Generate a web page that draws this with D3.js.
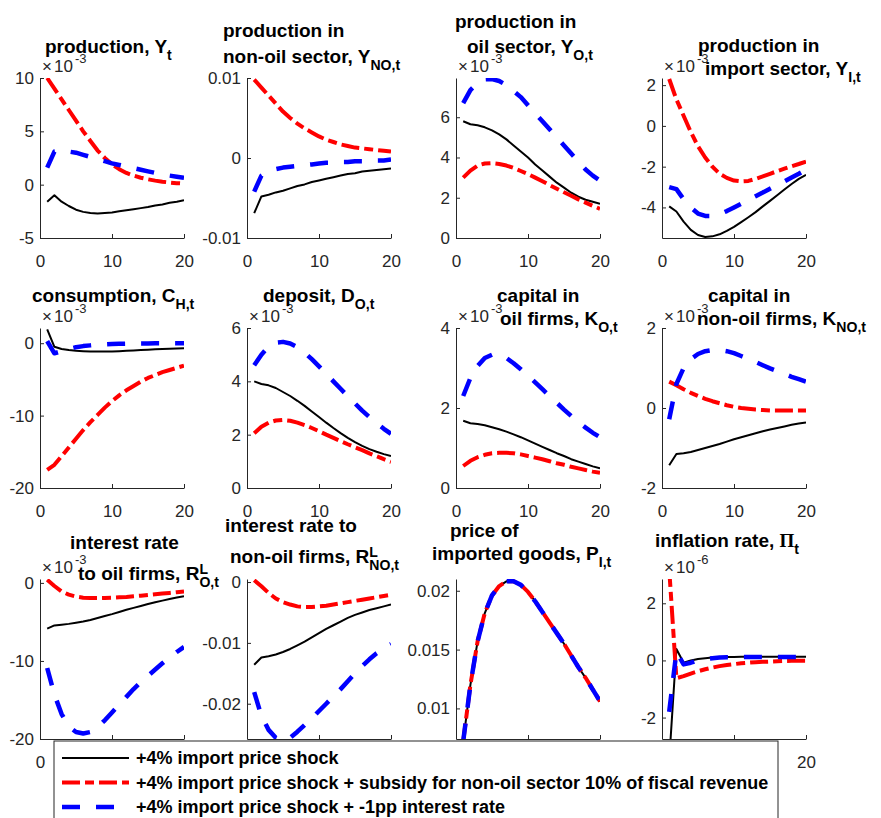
<!DOCTYPE html>
<html>
<head>
<meta charset="utf-8">
<script src="https://cdn.jsdelivr.net/npm/d3@7"></script>
<style>
  body { margin: 0; background: #fff; }
  svg text { font-family: "Liberation Sans", Arial, Helvetica, sans-serif; white-space: pre; }
  .tick text { fill: #262626; font-size: 17px; }
  .domain, .tick line { stroke: #262626; }
  .title text { font-weight: bold; fill: #000; }
</style>
</head>
<body>
<div id="chart"></div>
<script>
//////////////////
// Chart values //
//////////////////

// periods 1..20 after the shock
var periods = d3.range(1, 21);

// legend entries (one per scenario)
var scenarios = [
  "+4% import price shock",
  "+4% import price shock + subsidy for non-oil sector 10% of fiscal revenue",
  "+4% import price shock + -1pp interest rate"
];

// production, Y_t  (x 10^-3)
var prodBase    = [-1.6, -1.0, -1.6, -2.0, -2.35, -2.55, -2.65, -2.7, -2.65, -2.6, -2.5, -2.4, -2.3, -2.2, -2.1, -1.95, -1.85, -1.7, -1.6, -1.45];
var prodSubsidy = [10.0, 9.0, 8.0, 7.0, 6.0, 5.0, 4.1, 3.2, 2.5, 1.9, 1.45, 1.1, 0.85, 0.65, 0.5, 0.38, 0.28, 0.2, 0.14, 0.1];
var prodRate    = [1.6, 3.1, 3.2, 3.1, 3.0, 2.8, 2.6, 2.4, 2.2, 2.0, 1.85, 1.7, 1.55, 1.4, 1.25, 1.1, 1.0, 0.85, 0.75, 0.65];

// production in non-oil sector, Y_NO,t
var nonOilBase    = [-0.0069, -0.0048, -0.0046, -0.0043, -0.0041, -0.0038, -0.0035, -0.0033, -0.0030, -0.0028, -0.0026, -0.0024, -0.0022, -0.0020, -0.0019, -0.0017, -0.0016, -0.0015, -0.0014, -0.0013];
var nonOilSubsidy = [0.0098, 0.0088, 0.0078, 0.0068, 0.0058, 0.0050, 0.0043, 0.0037, 0.0032, 0.0027, 0.0023, 0.0020, 0.0017, 0.0015, 0.0013, 0.0012, 0.0011, 0.0010, 0.0009, 0.0008];
var nonOilRate    = [-0.0042, -0.0022, -0.0017, -0.0014, -0.0012, -0.0011, -0.0010, -0.0009, -0.0008, -0.0007, -0.0006, -0.0006, -0.0005, -0.0005, -0.0004, -0.0004, -0.0003, -0.0003, -0.0003, -0.0002];

// production in oil sector, Y_O,t  (x 10^-3)
var oilBase    = [5.8, 5.65, 5.6, 5.5, 5.35, 5.15, 4.9, 4.6, 4.3, 4.0, 3.65, 3.35, 3.05, 2.75, 2.5, 2.25, 2.05, 1.9, 1.8, 1.7];
var oilSubsidy = [3.0, 3.35, 3.6, 3.7, 3.72, 3.68, 3.6, 3.48, 3.33, 3.18, 3.0, 2.82, 2.63, 2.45, 2.27, 2.1, 1.92, 1.76, 1.6, 1.45];
var oilRate    = [6.7, 7.35, 7.7, 7.88, 7.9, 7.8, 7.6, 7.3, 7.0, 6.6, 6.2, 5.8, 5.4, 5.0, 4.6, 4.2, 3.8, 3.4, 3.1, 2.85];

// production in import sector, Y_I,t  (x 10^-3)
var importBase    = [-3.95, -4.2, -4.7, -5.1, -5.35, -5.45, -5.42, -5.32, -5.15, -4.95, -4.72, -4.48, -4.23, -3.95, -3.68, -3.4, -3.12, -2.85, -2.6, -2.4];
var importSubsidy = [2.3, 1.3, 0.5, -0.3, -1.0, -1.55, -2.0, -2.35, -2.55, -2.68, -2.72, -2.7, -2.6, -2.48, -2.35, -2.22, -2.1, -1.98, -1.87, -1.75];
var importRate    = [-3.0, -3.1, -3.6, -4.0, -4.3, -4.42, -4.42, -4.33, -4.18, -4.0, -3.82, -3.63, -3.45, -3.27, -3.08, -2.9, -2.72, -2.53, -2.35, -2.15];

// consumption, C_H,t  (x 10^-3)
var consBase    = [1.9, -0.5, -0.8, -0.95, -1.05, -1.1, -1.15, -1.15, -1.15, -1.15, -1.1, -1.05, -1.0, -0.95, -0.9, -0.85, -0.8, -0.75, -0.72, -0.7];
var consSubsidy = [-17.5, -16.8, -15.6, -14.4, -13.2, -12.0, -10.9, -9.9, -8.9, -8.0, -7.2, -6.5, -5.9, -5.3, -4.8, -4.4, -4.0, -3.7, -3.4, -3.1];
var consRate    = [0.3, -1.4, -1.1, -0.8, -0.55, -0.4, -0.3, -0.2, -0.15, -0.1, -0.08, -0.06, -0.05, -0.04, -0.03, -0.02, -0.02, -0.01, -0.01, 0];

// deposit, D_O,t  (x 10^-3)
var depBase    = [4.0, 3.9, 3.85, 3.75, 3.6, 3.45, 3.27, 3.08, 2.87, 2.66, 2.45, 2.25, 2.06, 1.88, 1.72, 1.58, 1.46, 1.36, 1.27, 1.2];
var depSubsidy = [2.05, 2.3, 2.45, 2.53, 2.55, 2.52, 2.45, 2.36, 2.25, 2.13, 2.0, 1.88, 1.76, 1.64, 1.53, 1.42, 1.3, 1.19, 1.08, 0.98];
var depRate    = [4.6, 5.0, 5.3, 5.45, 5.48, 5.42, 5.28, 5.08, 4.83, 4.56, 4.28, 4.0, 3.72, 3.44, 3.17, 2.9, 2.66, 2.43, 2.22, 2.03];

// capital in oil firms, K_O,t  (x 10^-3)
var kOilBase    = [1.68, 1.62, 1.6, 1.57, 1.52, 1.47, 1.41, 1.34, 1.27, 1.19, 1.11, 1.03, 0.95, 0.87, 0.8, 0.72, 0.66, 0.6, 0.54, 0.49];
var kOilSubsidy = [0.55, 0.68, 0.77, 0.83, 0.87, 0.88, 0.88, 0.87, 0.84, 0.8, 0.76, 0.72, 0.67, 0.62, 0.58, 0.53, 0.49, 0.45, 0.41, 0.38];
var kOilRate    = [2.3, 2.75, 3.05, 3.25, 3.33, 3.33, 3.25, 3.12, 2.97, 2.81, 2.64, 2.47, 2.3, 2.13, 1.96, 1.8, 1.65, 1.51, 1.38, 1.27];

// capital in non-oil firms, K_NO,t  (x 10^-3)
var kNonOilBase    = [-1.43, -1.15, -1.13, -1.1, -1.05, -1.0, -0.95, -0.9, -0.84, -0.78, -0.73, -0.68, -0.63, -0.58, -0.54, -0.5, -0.46, -0.42, -0.39, -0.36];
var kNonOilSubsidy = [0.66, 0.57, 0.47, 0.38, 0.3, 0.23, 0.17, 0.12, 0.07, 0.03, 0.0, -0.02, -0.04, -0.05, -0.06, -0.06, -0.06, -0.06, -0.06, -0.06];
var kNonOilRate    = [-0.28, 0.6, 1.0, 1.22, 1.35, 1.42, 1.45, 1.45, 1.42, 1.37, 1.3, 1.23, 1.15, 1.07, 0.99, 0.92, 0.85, 0.78, 0.72, 0.66];

// interest rate to oil firms, R^L_O,t  (x 10^-3)
var rOilBase    = [-5.85, -5.45, -5.35, -5.25, -5.1, -4.95, -4.75, -4.5, -4.25, -4.0, -3.72, -3.45, -3.2, -2.95, -2.7, -2.48, -2.27, -2.07, -1.88, -1.7];
var rOilSubsidy = [0.4, -0.4, -1.1, -1.5, -1.75, -1.9, -1.95, -1.95, -1.93, -1.9, -1.85, -1.8, -1.72, -1.64, -1.55, -1.46, -1.37, -1.28, -1.19, -1.1];
var rOilRate    = [-10.9, -14.3, -16.8, -18.4, -19.1, -19.3, -19.1, -18.5, -17.6, -16.6, -15.6, -14.6, -13.6, -12.7, -11.9, -11.1, -10.3, -9.55, -8.85, -8.2];

// interest rate to non-oil firms, R^L_NO,t
var rNonOilBase    = [-0.0136, -0.0124, -0.0122, -0.0119, -0.0115, -0.0110, -0.0104, -0.0098, -0.0091, -0.0084, -0.0077, -0.0071, -0.0065, -0.0059, -0.0054, -0.0050, -0.0046, -0.0043, -0.0040, -0.0037];
var rNonOilSubsidy = [0.0003, -0.0007, -0.0018, -0.0027, -0.0033, -0.0037, -0.0040, -0.0041, -0.0041, -0.0040, -0.0039, -0.0037, -0.0035, -0.0033, -0.0031, -0.0029, -0.0027, -0.0025, -0.0023, -0.0021];
var rNonOilRate    = [-0.0181, -0.0220, -0.0243, -0.0256, -0.0261, -0.0256, -0.0246, -0.0235, -0.0224, -0.0212, -0.0200, -0.0188, -0.0176, -0.0163, -0.0150, -0.0138, -0.0127, -0.0117, -0.0109, -0.0102];

// price of imported goods, P_I,t
var pImpBase    = [0.0072, 0.0120, 0.0157, 0.0181, 0.0196, 0.0204, 0.0208, 0.0208, 0.0205, 0.0199, 0.0191, 0.0182, 0.0173, 0.0164, 0.0155, 0.0145, 0.0135, 0.0126, 0.0116, 0.0106];
var pImpSubsidy = [0.0072, 0.0120, 0.0157, 0.0181, 0.0196, 0.0204, 0.0208, 0.0208, 0.0205, 0.0199, 0.0191, 0.0182, 0.0173, 0.0164, 0.0155, 0.0145, 0.0135, 0.0126, 0.0116, 0.0106];
var pImpRate    = [0.0072, 0.0120, 0.0157, 0.0181, 0.0196, 0.0204, 0.0208, 0.0208, 0.0205, 0.0199, 0.0191, 0.0182, 0.0173, 0.0164, 0.0155, 0.0145, 0.0135, 0.0126, 0.0116, 0.0106];

// inflation rate, Pi_t  (x 10^-6)
var inflBase    = [-3.5, 0.4, -0.08, 0.0, 0.05, 0.08, 0.1, 0.11, 0.12, 0.12, 0.13, 0.13, 0.13, 0.13, 0.13, 0.13, 0.13, 0.13, 0.13, 0.13];
var inflSubsidy = [3.2, -0.62, -0.55, -0.46, -0.38, -0.31, -0.25, -0.2, -0.16, -0.13, -0.1, -0.08, -0.06, -0.05, -0.04, -0.03, -0.02, -0.015, -0.01, -0.01];
var inflRate    = [-1.8, 0.3, -0.14, -0.08, 0.0, 0.05, 0.08, 0.1, 0.11, 0.11, 0.12, 0.12, 0.12, 0.12, 0.12, 0.12, 0.12, 0.12, 0.12, 0.12];

// x ticks shared by all panels
var xTicks = [0, 10, 20];

// panels in row order: title lines (tex-ish), exponent label, y range, y ticks, series
var panels = [
  {title: ["production, Y_{t}"], exp: "-3", yDomain: [-5, 10], yTicks: [-5, 0, 5, 10], series: [prodBase, prodSubsidy, prodRate]},
  {title: ["production in", "non-oil sector, Y_{NO,t}"], exp: null, yDomain: [-0.01, 0.01], yTicks: [-0.01, 0, 0.01], series: [nonOilBase, nonOilSubsidy, nonOilRate]},
  {title: ["production in", "oil sector, Y_{O,t}"], exp: "-3", yDomain: [0, 7.95], yTicks: [0, 2, 4, 6], series: [oilBase, oilSubsidy, oilRate]},
  {title: ["production in", "import sector, Y_{I,t}"], exp: "-3", yDomain: [-5.5, 2.35], yTicks: [-4, -2, 0, 2], series: [importBase, importSubsidy, importRate]},
  {title: ["consumption, C_{H,t}"], exp: "-3", yDomain: [-20, 2.1], yTicks: [-20, -10, 0], series: [consBase, consSubsidy, consRate]},
  {title: ["deposit, D_{O,t}"], exp: "-3", yDomain: [0, 6], yTicks: [0, 2, 4, 6], series: [depBase, depSubsidy, depRate]},
  {title: ["capital in", "oil firms, K_{O,t}"], exp: "-3", yDomain: [0, 4], yTicks: [0, 2, 4], series: [kOilBase, kOilSubsidy, kOilRate]},
  {title: ["capital in", "non-oil firms, K_{NO,t}"], exp: "-3", yDomain: [-2, 2], yTicks: [-2, 0, 2], series: [kNonOilBase, kNonOilSubsidy, kNonOilRate]},
  {title: ["interest rate", "to oil firms, R^{L}_{O,t}"], exp: "-3", yDomain: [-20, 0.5], yTicks: [-20, -10, 0], series: [rOilBase, rOilSubsidy, rOilRate]},
  {title: ["interest rate to", "non-oil firms, R^{L}_{NO,t}"], exp: null, yDomain: [-0.0258, 0.0005], yTicks: [-0.02, -0.01, 0], series: [rNonOilBase, rNonOilSubsidy, rNonOilRate]},
  {title: ["price of", "imported goods, P_{I,t}"], exp: null, yDomain: [0.0074, 0.021], yTicks: [0.01, 0.015, 0.02], series: [pImpBase, pImpSubsidy, pImpRate]},
  {title: ["inflation rate, Π_{t}"], exp: "-6", yDomain: [-2.75, 2.85], yTicks: [-2, 0, 2], series: [inflBase, inflSubsidy, inflRate]}
];

////////////
// Layout //
////////////

var width = 881, height = 818;
var colLeft = [40, 247, 456, 662];
var rowTop = [78, 328, 579];
var pw = 144, ph = 160;

// legend box (drawn last, over the bottom row's x labels)
var legendBox = {x: 54, y: 741, w: 724, h: 100};

// title line offsets [dx, dy] from the axes top-left corner (baseline, left edge)
var titleLayout = [
  [[5, -25]],
  [[-24, -41], [-24, -15]],
  [[-1, -50], [11, -25]],
  [[36, -26], [43, -3]],
  [[-8, -26]],
  [[16, -26]],
  [[41, -26], [44, -3]],
  [[46, -26], [35, -3]],
  [[30, -30], [38, 1]],
  [[-22, -47], [-17, -16]],
  [[-6, -42], [-24, -19]],
  [[-7, -32]]
];

var styles = [
  {color: "#000000", width: 2, dash: null},
  {color: "#ff0000", width: 4, dash: "18,5,9,5"},
  {color: "#0000ff", width: 4.5, dash: "18,16"}
];

var svg = d3.select("#chart").append("svg")
    .attr("width", width)
    .attr("height", height);

svg.append("defs");

// draw a small tex-like string: plain text, _{sub} and ^{sup}
function drawTex(g, str, x, y, size) {
  var parts = str.split(/(\^\{[^}]*\}|_\{[^}]*\}|Π)/).filter(function(s) { return s.length; });
  var cx = x, supStart = null, lastKind = null;
  parts.forEach(function(p) {
    var kind = p[0] == "^" ? "sup" : (p[0] == "_" && p[1] == "{") ? "sub" : "norm";
    var txt = kind == "norm" ? p : p.slice(2, -1);
    var fs = kind == "norm" ? size : size * 0.74;
    var dy = kind == "sup" ? -size * 0.33 : kind == "sub" ? size * 0.38 : 0;
    var startX = (kind == "sub" && lastKind == "sup") ? supStart : cx;
    var t = g.append("text")
        .attr("x", startX)
        .attr("y", y + dy)
        .style("font-size", fs + "px")
        .text(txt);
    if (txt == "Π") t.style("font-family", "'Liberation Serif', 'Times New Roman', serif");
    var w = t.node().getComputedTextLength();
    if (kind == "sup") supStart = startX;
    cx = Math.max(cx, startX + w);
    lastKind = kind;
  });
}

var line = d3.line();

panels.forEach(function(p, i) {
  var left = colLeft[i % 4], top = rowTop[Math.floor(i / 4)];

  var xScale = d3.scaleLinear().domain([0, 20]).range([0, pw]);
  var yScale = d3.scaleLinear().domain(p.yDomain).range([ph, 0]);

  var g = svg.append("g")
      .attr("transform", "translate(" + left + "," + top + ")");

  // clip so curves stop at the axes box
  svg.select("defs").append("clipPath")
      .attr("id", "clip" + i)
    .append("rect")
      .attr("width", pw)
      .attr("height", ph);

  var plot = g.append("g").attr("clip-path", "url(#clip" + i + ")");

  p.series.forEach(function(vals, s) {
    var st = styles[s];
    plot.append("path")
        .attr("d", line(vals.map(function(v, k) { return [xScale(periods[k]), yScale(v)]; })))
        .attr("fill", "none")
        .attr("stroke", st.color)
        .attr("stroke-width", st.width)
        .attr("stroke-dasharray", st.dash)
        .attr("stroke-linejoin", "round");
  });

  var xAxis = g.append("g")
      .attr("transform", "translate(0," + ph + ")")
      .call(d3.axisBottom(xScale).tickValues(xTicks).tickSizeInner(-4).tickSizeOuter(0).tickPadding(17).tickFormat(String));

  // x labels that would sit under the legend are not visible there
  xAxis.selectAll(".tick text").filter(function(d) {
    var ax = left + xScale(d);
    return top + ph + 20 > legendBox.y && ax > legendBox.x - 5 && ax < legendBox.x + legendBox.w + 5;
  }).remove();

  g.append("g")
      .call(d3.axisLeft(yScale).tickValues(p.yTicks).tickSizeInner(-4).tickSizeOuter(0).tickPadding(6).tickFormat(String));

  // exponent label, x10^-n
  if (p.exp) {
    var e = g.append("g").attr("fill", "#262626");
    e.append("text").attr("x", 2).attr("y", -6).style("font-size", "17px").text("×");
    e.append("text").attr("x", 14).attr("y", -6).style("font-size", "17px").text("10");
    e.append("text").attr("x", 35).attr("y", -15).style("font-size", "13px").text(p.exp);
  }

  // title
  var tg = g.append("g").attr("class", "title");
  p.title.forEach(function(t, j) {
    var off = titleLayout[i][j];
    drawTex(tg, t, off[0], off[1], 19);
  });
});

////////////
// Legend //
////////////

var legend = svg.append("g").attr("transform", "translate(" + legendBox.x + "," + legendBox.y + ")");

legend.append("rect")
    .attr("width", legendBox.w)
    .attr("height", legendBox.h)
    .attr("fill", "#fff")
    .attr("stroke", "#262626")
    .attr("stroke-width", 1);

scenarios.forEach(function(name, s) {
  var row = legend.append("g").attr("transform", "translate(0," + (17 + s * 24.5) + ")");
  row.append("line")
      .attr("x1", 8).attr("x2", 75)
      .attr("stroke", styles[s].color)
      .attr("stroke-width", styles[s].width)
      .attr("stroke-dasharray", styles[s].dash);
  row.append("text")
      .attr("x", 82)
      .attr("y", 6)
      .style("font-size", "18px")
      .style("font-weight", "bold")
      .text(name);
});
</script>
</body>
</html>
